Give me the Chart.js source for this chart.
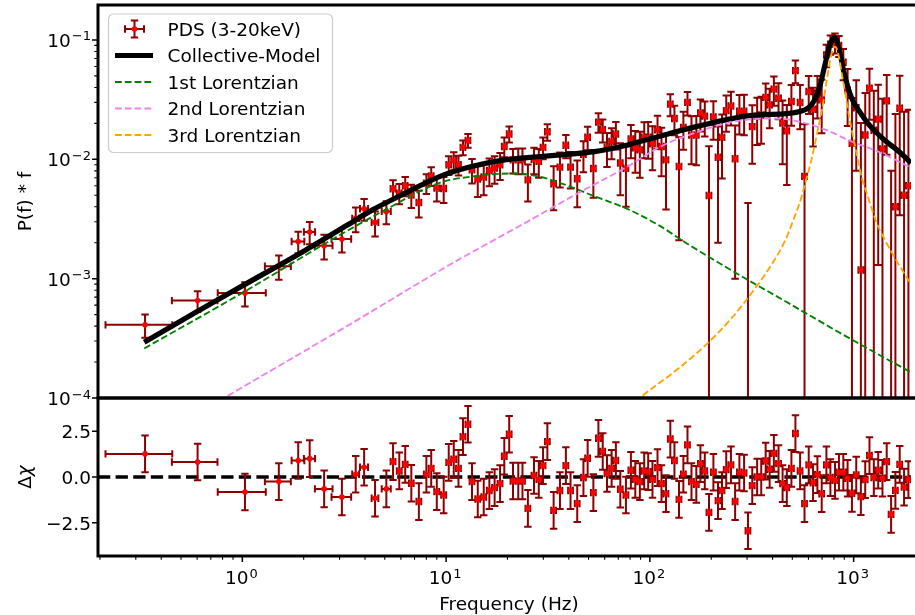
<!DOCTYPE html>
<html>
<head>
<meta charset="utf-8">
<script src="https://cdn.jsdelivr.net/npm/chart.js@4.4.1/dist/chart.umd.min.js"></script>
<style>
  html, body { margin: 0; padding: 0; background: #fff; }
  #wrap { position: relative; width: 915px; height: 615px; overflow: hidden; }
  canvas { position: absolute; left: 0; top: 0; }
</style>
</head>
<body>
<div id="wrap">
  <canvas id="pds" width="915" height="615"></canvas>
  <canvas id="res" width="915" height="615"></canvas>
</div>
<script>
// PDS bins (Hz), power*f, their errors, and fit residuals
const freq = [
  0.333, 0.603, 1.03, 1.51, 1.88, 2.14, 2.52, 3.08, 3.6, 3.96,
  4.48, 5.09, 5.49, 5.89, 6.3, 6.75, 7.35, 8.0, 8.45, 9.0,
  9.73, 10.3, 10.9, 11.5, 12.1, 12.8, 13.4, 14.3, 15.3, 16.3,
  17.3, 18.4, 19.3, 20.4, 21.3, 22.6, 23.7, 25.2, 27, 28.5,
  29.9, 31.4, 33.7, 36.2, 38.7, 40.8, 44, 47.2, 49.5, 52.8,
  55.9, 58.7, 61.6, 64.9, 68.1, 71.6, 76.3, 80.7, 84.8, 89.3,
  93.8, 98.1, 103, 109, 114, 120, 126, 132, 139, 146,
  153, 160, 169, 177, 186, 195, 205, 216, 226, 237,
  250, 262, 275, 290, 303, 318, 336, 352, 370, 387,
  406, 428, 448, 470, 495, 518, 546, 574, 602, 632,
  664, 697, 735, 769, 810, 847, 890, 934, 981, 1030,
  1085, 1140, 1196, 1256, 1320, 1385, 1453, 1527, 1603, 1683,
  1768, 1857
];
const freqErr = [
  0.12, 0.152, 0.273, 0.22, 0.135, 0.135, 0.25, 0.34, 0.14, 0.18,
  0.17, 0.26, 0.15, 0.16, 0.17, 0.18, 0.2, 0.22, 0.23, 0.25,
  0.27, 0.28, 0.3, 0.31, 0.33, 0.35, 0.36, 0.39, 0.41, 0.44,
  0.47, 0.5, 0.52, 0.55, 0.58, 0.61, 0.64, 0.68, 0.73, 0.77,
  0.81, 0.85, 0.91, 0.98, 1.05, 1.1, 1.19, 1.27, 1.34, 1.43,
  1.51, 1.58, 1.66, 1.75, 1.84, 1.93, 2.06, 2.18, 2.29, 2.41,
  2.53, 2.65, 2.78, 2.94, 3.08, 3.24, 3.4, 3.56, 3.75, 3.94,
  4.13, 4.32, 4.56, 4.78, 5.0, 5.3, 5.5, 5.8, 6.1, 6.4,
  6.75, 7.1, 7.4, 7.8, 8.2, 8.6, 9.1, 9.5, 10, 10.4,
  11, 11.6, 12.1, 12.7, 13.4, 14, 14.7, 15.5, 16.3, 17.1,
  17.9, 18.8, 19.8, 20.8, 21.9, 22.9, 24, 25.2, 26.5, 27.8,
  29.3, 30.8, 32.3, 33.9, 35.6, 37.4, 39.2, 41.2, 43.3, 45.4,
  47.7, 50.1
];
const power = [
  4.1e-4, 6.55e-4, 7.6e-4, 1.27e-3, 2.05e-3, 2.46e-3, 1.89e-3, 2.15e-3, 3.2e-3, 3.85e-3,
  2.96e-3, 3.66e-3, 5.66e-3, 5.21e-3, 6.0e-3, 5.01e-3, 4.35e-3, 6.31e-3, 7.27e-3, 5.74e-3,
  5.7e-3, 9.0e-3, 9.77e-3, 9.0e-3, 1.26e-2, 1.44e-2, 8.17e-3, 6.83e-3, 7.1e-3, 8.05e-3,
  8.43e-3, 9.0e-3, 1.28e-2, 1.63e-2, 9.9e-3, 9.9e-3, 9.9e-3, 6.73e-3, 1.0e-2, 9.6e-3,
  1.26e-2, 1.70e-2, 6.24e-3, 8.6e-3, 1.31e-2, 8.6e-3, 6.87e-3, 1.1e-2, 1.53e-2, 8.37e-3,
  2.05e-2, 1.77e-2, 1.26e-2, 1.41e-2, 1.63e-2, 9.3e-3, 8.4e-3, 1.48e-2, 1.25e-2, 1.2e-2,
  1.53e-2, 1.53e-2, 1.35e-2, 1.77e-2, 1.28e-2, 9.9e-3, 2.9e-2, 2.2e-2, 8.7e-3, 1.85e-2,
  3.0e-2, 1.6e-2, 1.6e-2, 2.44e-2, 2.3e-2, 4.97e-3, 2.26e-2, 1.04e-2, 1.53e-2, 2.56e-2,
  2.8e-2, 1.01e-2, 2.53e-2, 2.53e-2, -4.9e-3, 1.88e-2, 2.3e-2, 2.35e-2, 3.3e-2, 2.86e-2,
  3.87e-2, 3.25e-2, 2.01e-2, 1.73e-2, 3.05e-2, 5.53e-2, 2.99e-2, 7.2e-3, 3.7e-2, 2.63e-2,
  3.6e-2, 3.15e-2, 7.5e-2, 9.2e-2, 9.5e-2, 9.0e-2, 6.5e-2, 3.8e-2, 1.36e-2, 2.7e-2,
  1.18e-3, 1.6e-2, 3.95e-2, 1.75e-2, 2.17e-2, 1.22e-2, 3.09e-2, -1.2e-2, 4.0e-3, 2.68e-2,
  5.0e-3, 6.0e-3
];
const powerErr = [
  0.9e-4, 1.3e-4, 1.75e-4, 2.9e-4, 4.2e-4, 5.2e-4, 4.4e-4, 4.9e-4, 7.5e-4, 8.0e-4,
  7.0e-4, 8.0e-4, 1.0e-3, 1.0e-3, 1.1e-3, 1.1e-3, 1.1e-3, 1.2e-3, 1.3e-3, 1.3e-3,
  1.4e-3, 1.6e-3, 1.7e-3, 1.7e-3, 1.8e-3, 1.9e-3, 1.9e-3, 2.0e-3, 2.1e-3, 2.1e-3,
  2.2e-3, 2.3e-3, 2.4e-3, 2.5e-3, 2.3e-3, 2.4e-3, 2.4e-3, 2.3e-3, 2.5e-3, 2.6e-3,
  2.6e-3, 2.7e-3, 2.5e-3, 2.8e-3, 2.9e-3, 2.9e-3, 2.9e-3, 3.2e-3, 3.4e-3, 3.6e-3,
  3.8e-3, 3.9e-3, 4.0e-3, 4.1e-3, 4.2e-3, 4.3e-3, 4.4e-3, 4.6e-3, 4.8e-3, 5.0e-3,
  5.1e-3, 5.2e-3, 5.4e-3, 5.5e-3, 5.6e-3, 6.1e-3, 6.0e-3, 6.1e-3, 6.6e-3, 6.5e-3,
  6.7e-3, 6.9e-3, 7.1e-3, 7.3e-3, 7.5e-3, 7.9e-3, 8.0e-3, 8.4e-3, 8.4e-3, 8.6e-3,
  8.8e-3, 9.1e-3, 9.2e-3, 9.4e-3, 9.2e-3, 9.6e-3, 9.8e-3, 1.0e-2, 1.02e-2, 1.04e-2,
  1.06e-2, 1.08e-2, 1.1e-2, 1.12e-2, 1.14e-2, 1.2e-2, 1.2e-2, 1.25e-2, 1.3e-2, 1.35e-2,
  1.4e-2, 1.5e-2, 1.6e-2, 1.7e-2, 1.8e-2, 1.8e-2, 1.9e-2, 1.9e-2, 1.9e-2, 1.9e-2,
  1.9e-2, 2.0e-2, 1.8e-2, 2.0e-2, 2.04e-2, 2.0e-2, 2.0e-2, 2.0e-2, 2.0e-2, 2.34e-2,
  2.0e-2, 2.0e-2
];
const resid = [
  1.26, 0.82, -0.82, -0.25, 0.90, 1.00, -0.65, -1.09, 0.15, 0.53,
  -1.16, -0.65, 0.84, 0.33, 0.69, -0.34, -1.34, 0.15, 0.47, -0.80,
  -0.98, 0.80, 0.97, 0.47, 2.20, 2.88, -0.25, -1.20, -1.09, -0.74,
  -0.58, -0.36, 1.13, 2.33, -0.22, -0.22, -0.22, -1.71, 0.08, -0.13,
  0.62, 1.93, -1.82, -0.74, 0.62, -0.74, -1.45, -0.03, 1.02, -0.85,
  2.11, 1.39, 0.19, 0.47, 0.90, -0.67, -0.98, 0.37, -0.13, -0.25,
  0.33, 0.29, -0.13, 0.51, -0.36, -0.91, 2.07, 0.90, -1.22, 0.15,
  1.75, -0.25, -0.40, 0.73, 0.33, -1.93, 0.26, -1.29, -0.74, 0.40,
  0.66, -1.34, 0.26, 0.22, -2.93, -0.47, 0.0, 0.0, 0.87, 0.42,
  1.29, 0.73, -0.36, -0.58, 0.47, 2.37, 0.33, -1.45, 0.66, -0.31,
  0.13, -0.91, 0.66, -0.03, -0.18, 0.26, 0.26, -0.07, -0.89, 0.11,
  -1.07, -0.14, 1.17, -0.03, 0.37, -0.07, 0.84, -2.04, -0.73, 0.69,
  -0.55, -0.14
];
const residErr = freq.map(() => 1);

// model curves
const modelFreq = [0.33, 0.6, 1, 2, 3.26, 4.33, 6.3, 9.15, 13.3, 19.4, 28.2, 36.6, 53.5, 77.8, 113, 165, 239, 295, 354, 450, 537, 600, 640, 680, 720, 760, 790, 805, 825, 855, 900, 975, 1080, 1175, 1300, 1416, 1700, 1912];
const modelPower = [2.93e-4, 5.3e-4, 8.7e-4, 1.70e-3, 2.8e-3, 3.75e-3, 5.2e-3, 7.1e-3, 8.7e-3, 9.9e-3, 1.05e-2, 1.09e-2, 1.16e-2, 1.32e-2, 1.57e-2, 1.86e-2, 2.15e-2, 2.3e-2, 2.37e-2, 2.40e-2, 2.5e-2, 2.7e-2, 3.1e-2, 4.0e-2, 6.0e-2, 8.8e-2, 0.102, 0.104, 0.099, 0.08, 0.052, 0.033, 0.0245, 0.0200, 0.0166, 0.0145, 0.0113, 9.3e-3];
const lor1Freq = [0.33, 1, 2.98, 5, 9.15, 14.4, 20.9, 28.2, 36.6, 53.5, 77.8, 113, 150, 250, 462, 978, 1912];
const lor1Power = [2.6e-4, 7.6e-4, 2.3e-3, 3.75e-3, 6.3e-3, 7.28e-3, 7.6e-3, 7.2e-3, 6.3e-3, 4.9e-3, 3.83e-3, 2.74e-3, 2.0e-3, 1.18e-3, 6.46e-4, 3.09e-4, 1.64e-4];
const lor2Freq = [0.7, 1, 3.26, 10.85, 25.2, 44.4, 77.8, 113, 165, 239, 295, 383, 462, 697, 978, 1320, 1912];
const lor2Power = [8.6e-5, 1.23e-4, 4.0e-4, 1.36e-3, 3.02e-3, 5.2e-3, 8.7e-3, 1.28e-2, 1.66e-2, 2.01e-2, 2.14e-2, 2.2e-2, 2.17e-2, 1.82e-2, 1.41e-2, 1.16e-2, 8.5e-3];
const lor3Freq = [85, 92.5, 140, 195, 250, 318, 400, 462, 506, 550, 577, 620, 671, 705, 735, 765, 790, 805, 825, 850, 880, 906, 950, 1015, 1090, 1183, 1300, 1427, 1650, 1912];
const lor3Power = [9.2e-5, 1.05e-4, 1.8e-4, 2.95e-4, 4.6e-4, 7.7e-4, 1.35e-3, 2.1e-3, 3.1e-3, 4.6e-3, 6.2e-3, 9.8e-3, 1.85e-2, 2.8e-2, 4.4e-2, 6.6e-2, 8.3e-2, 8.8e-2, 8.5e-2, 7.0e-2, 4.9e-2, 3.7e-2, 2.3e-2, 1.3e-2, 7.3e-3, 4.7e-3, 2.9e-3, 2.1e-3, 1.35e-3, 9.0e-4];

// ticks
const xMajorTicks = [1, 10, 100, 1000];
const xMajorExp = ['0', '1', '2', '3'];
const xMinorTicks = [0.2, 0.3, 0.4, 0.5, 0.6, 0.7, 0.8, 0.9, 2, 3, 4, 5, 6, 7, 8, 9, 20, 30, 40, 50, 60, 70, 80, 90, 200, 300, 400, 500, 600, 700, 800, 900];
const pdsMajorTicks = [1e-4, 1e-3, 1e-2, 1e-1];
const pdsMajorExp = ['\u22124', '\u22123', '\u22122', '\u22121'];
const pdsMinorTicks = [2e-4, 3e-4, 4e-4, 5e-4, 6e-4, 7e-4, 8e-4, 9e-4, 2e-3, 3e-3, 4e-3, 5e-3, 6e-3, 7e-3, 8e-3, 9e-3, 2e-2, 3e-2, 4e-2, 5e-2, 6e-2, 7e-2, 8e-2, 9e-2];
const resTicks = [-2.5, 0, 2.5];
const resTickLabels = ['\u22122.5', '0.0', '2.5'];

const X_MIN = 0.1957, X_MAX = 1912;
const FONT = '"DejaVu Sans", "Liberation Sans", sans-serif';
const FS = 18.5;
const DARK = '#8b0000';

const pts = (xs, ys) => xs.map((x, i) => ({ x: x, y: ys[i] }));

function drawPow(ctx, exp, x, y, align) {
  ctx.font = FS + 'px ' + FONT;
  const wb = ctx.measureText('10').width;
  ctx.font = '13px ' + FONT;
  const we = ctx.measureText(exp).width;
  const total = wb + we + 1;
  const left = align === 'right' ? x - total : x - total / 2;
  ctx.textAlign = 'left';
  ctx.textBaseline = 'alphabetic';
  ctx.font = FS + 'px ' + FONT;
  ctx.fillText('10', left, y);
  ctx.font = '13px ' + FONT;
  ctx.fillText(exp, left + wb + 1, y - 6.5);
}

function drawSpines(ctx, a) {
  ctx.save();
  ctx.strokeStyle = '#000';
  ctx.lineWidth = 3;
  ctx.lineJoin = 'miter';
  ctx.beginPath();
  ctx.moveTo(a.right + 5, a.top);
  ctx.lineTo(a.left, a.top);
  ctx.lineTo(a.left, a.bottom);
  ctx.lineTo(a.right + 5, a.bottom);
  ctx.stroke();
  ctx.restore();
}

function yTicks(ctx, scale, a, vals, len, w) {
  ctx.lineWidth = w;
  ctx.beginPath();
  vals.forEach(v => {
    const y = scale.getPixelForValue(v);
    ctx.moveTo(a.left, y);
    ctx.lineTo(a.left - len, y);
  });
  ctx.stroke();
}

const errorBars = {
  id: 'errorBars',
  beforeDatasetDraw(chart, args) {
    const ds = chart.data.datasets[args.index];
    if (!ds.yErr) return;
    const ctx = chart.ctx, a = chart.chartArea;
    const sx = chart.scales.x, sy = chart.scales.y;
    const logY = sy.type === 'logarithmic';
    const ok = v => !logY || v > 0;
    const cap = 3.7;
    ctx.save();
    ctx.beginPath();
    ctx.rect(a.left, a.top, a.right - a.left, a.bottom - a.top);
    ctx.clip();
    ctx.strokeStyle = DARK;
    ctx.lineWidth = 2;
    ctx.beginPath();
    ds.data.forEach((p, i) => {
      const px = sx.getPixelForValue(p.x);
      const hi = p.y + ds.yErr[i], lo = p.y - ds.yErr[i];
      if (ok(hi)) {
        const yHi = sy.getPixelForValue(hi);
        const yLo = ok(lo) ? sy.getPixelForValue(lo) : a.bottom + 20;
        ctx.moveTo(px, yHi); ctx.lineTo(px, yLo);
        ctx.moveTo(px - cap, yHi); ctx.lineTo(px + cap, yHi);
        if (ok(lo)) { ctx.moveTo(px - cap, yLo); ctx.lineTo(px + cap, yLo); }
      }
      if (ok(p.y)) {
        const py = sy.getPixelForValue(p.y);
        const xl = sx.getPixelForValue(p.x - ds.xErr[i]);
        const xr = sx.getPixelForValue(p.x + ds.xErr[i]);
        ctx.moveTo(xl, py); ctx.lineTo(xr, py);
        ctx.moveTo(xl, py - cap); ctx.lineTo(xl, py + cap);
        ctx.moveTo(xr, py - cap); ctx.lineTo(xr, py + cap);
      }
    });
    ctx.stroke();
    ctx.restore();
  }
};

const pdsDecor = {
  id: 'pdsDecor',
  afterDraw(chart) {
    const ctx = chart.ctx, a = chart.chartArea, sy = chart.scales.y;
    drawSpines(ctx, a);
    ctx.save();
    ctx.strokeStyle = '#000';
    yTicks(ctx, sy, a, pdsMajorTicks, 6, 1.5);
    yTicks(ctx, sy, a, pdsMinorTicks, 3.7, 1.1);
    ctx.fillStyle = '#000';
    pdsMajorTicks.forEach((v, i) => drawPow(ctx, pdsMajorExp[i], 91, sy.getPixelForValue(v) + 7, 'right'));
    // y label
    ctx.save();
    ctx.translate(30.5, (a.top + a.bottom) / 2);
    ctx.rotate(-Math.PI / 2);
    ctx.font = FS + 'px ' + FONT;
    ctx.textAlign = 'center';
    ctx.textBaseline = 'alphabetic';
    ctx.fillText('P(f) * f', 0, 0);
    ctx.restore();

    // legend
    const lx = 108.5, ly = 14, lw = 224, lh = 138.5;
    ctx.beginPath();
    ctx.roundRect(lx, ly, lw, lh, 5);
    ctx.fillStyle = 'rgba(255,255,255,0.8)';
    ctx.fill();
    ctx.strokeStyle = '#cccccc';
    ctx.lineWidth = 1.2;
    ctx.stroke();
    const rows = [29, 55.5, 82, 108.5, 135];
    const hx0 = 115, hx1 = 153, tx = 167.5;
    // errorbar handle
    ctx.strokeStyle = DARK;
    ctx.lineWidth = 2;
    ctx.beginPath();
    const cx = 134.5, cy = rows[0];
    ctx.moveTo(125, cy); ctx.lineTo(144, cy);
    ctx.moveTo(125, cy - 3.7); ctx.lineTo(125, cy + 3.7);
    ctx.moveTo(144, cy - 3.7); ctx.lineTo(144, cy + 3.7);
    ctx.moveTo(cx, cy - 8.5); ctx.lineTo(cx, cy + 8.5);
    ctx.moveTo(cx - 3.7, cy - 8.5); ctx.lineTo(cx + 3.7, cy - 8.5);
    ctx.moveTo(cx - 3.7, cy + 8.5); ctx.lineTo(cx + 3.7, cy + 8.5);
    ctx.stroke();
    ctx.fillStyle = 'red';
    ctx.beginPath();
    ctx.arc(cx, cy, 2.8, 0, Math.PI * 2);
    ctx.fill();
    const lineHandles = [
      { c: '#000', w: 5.2, d: [] },
      { c: 'green', w: 1.85, d: [6.8, 3] },
      { c: 'violet', w: 1.85, d: [6.8, 3] },
      { c: 'orange', w: 1.85, d: [6.8, 3] }
    ];
    lineHandles.forEach((h, i) => {
      ctx.strokeStyle = h.c;
      ctx.lineWidth = h.w;
      ctx.setLineDash(h.d);
      ctx.beginPath();
      ctx.moveTo(hx0, rows[i + 1]);
      ctx.lineTo(hx1, rows[i + 1]);
      ctx.stroke();
    });
    ctx.setLineDash([]);
    ctx.fillStyle = '#000';
    ctx.font = FS + 'px ' + FONT;
    ctx.textAlign = 'left';
    ctx.textBaseline = 'alphabetic';
    chart.data.datasets.forEach((ds, i) => {
      ctx.fillText(ds.label, tx, rows[ds.legendRow] + 6.7);
    });
    ctx.restore();
  }
};

const resDecor = {
  id: 'resDecor',
  afterDraw(chart) {
    const ctx = chart.ctx, a = chart.chartArea, sx = chart.scales.x, sy = chart.scales.y;
    drawSpines(ctx, a);
    ctx.save();
    ctx.strokeStyle = '#000';
    yTicks(ctx, sy, a, resTicks, 6, 1.5);
    // x ticks
    ctx.lineWidth = 1.5;
    ctx.beginPath();
    xMajorTicks.forEach(v => { const x = sx.getPixelForValue(v); ctx.moveTo(x, a.bottom); ctx.lineTo(x, a.bottom + 6); });
    ctx.stroke();
    ctx.lineWidth = 1.1;
    ctx.beginPath();
    xMinorTicks.forEach(v => { const x = sx.getPixelForValue(v); ctx.moveTo(x, a.bottom); ctx.lineTo(x, a.bottom + 3.7); });
    ctx.stroke();
    ctx.fillStyle = '#000';
    xMajorTicks.forEach((v, i) => drawPow(ctx, xMajorExp[i], sx.getPixelForValue(v) - 1, 584, 'center'));
    ctx.font = FS + 'px ' + FONT;
    ctx.textAlign = 'right';
    ctx.textBaseline = 'alphabetic';
    resTicks.forEach((v, i) => ctx.fillText(resTickLabels[i], 91, sy.getPixelForValue(v) + 6.8));
    ctx.textAlign = 'center';
    ctx.fillText('Frequency (Hz)', 509, 610);
    // y label: Delta chi
    ctx.save();
    ctx.translate(30.5, (a.top + a.bottom) / 2);
    ctx.rotate(-Math.PI / 2);
    ctx.font = FS + 'px ' + FONT;
    const wD = ctx.measureText('\u0394').width;
    ctx.font = 'italic ' + FS + 'px ' + FONT;
    const wC = ctx.measureText('\u03c7').width;
    const x0 = -(wD + wC) / 2;
    ctx.textAlign = 'left';
    ctx.font = FS + 'px ' + FONT;
    ctx.fillText('\u0394', x0, 0);
    ctx.font = 'italic ' + FS + 'px ' + FONT;
    ctx.fillText('\u03c7', x0 + wD, 0);
    ctx.restore();
    ctx.restore();
  }
};

const xScale = (shown, h) => ({
  type: 'logarithmic', min: X_MIN, max: X_MAX, display: shown,
  ticks: { display: false }, grid: { display: false }, border: { display: false },
  afterFit: s => { if (h) s.height = h; }
});

const curve = (label, xs, ys, color, width, dash, order, row) => ({
  label: label, legendRow: row, data: pts(xs, ys), showLine: true,
  borderColor: color, borderWidth: width, borderDash: dash, pointRadius: 0,
  cubicInterpolationMode: 'monotone', clip: 0, order: order
});

const baseOpts = {
  responsive: false, animation: false, devicePixelRatio: 1, events: [],
  plugins: { legend: { display: false }, tooltip: { enabled: false } }
};

new Chart(document.getElementById('pds'), {
  type: 'scatter',
  data: {
    datasets: [
      { label: 'PDS (3-20keV)', legendRow: 0, data: pts(freq, power), yErr: powerErr, xErr: freqErr,
        pointRadius: 2.8, pointBackgroundColor: 'red', pointBorderWidth: 0, clip: 0, order: 10 },
      curve('Collective-Model', modelFreq, modelPower, '#000', 5.2, [], 4, 1),
      curve('1st Lorentzian', lor1Freq, lor1Power, 'green', 1.85, [6.8, 3], 3, 2),
      curve('2nd Lorentzian', lor2Freq, lor2Power, 'violet', 1.85, [6.8, 3], 2, 3),
      curve('3rd Lorentzian', lor3Freq, lor3Power, 'orange', 1.85, [6.8, 3], 1, 4)
    ]
  },
  options: Object.assign({}, baseOpts, {
    layout: { padding: { top: 5, left: 0, right: 0, bottom: 217 } },
    scales: {
      x: xScale(false, 0),
      y: { type: 'logarithmic', min: 1e-4, max: 0.1963,
        ticks: { display: false }, grid: { display: false }, border: { display: false },
        afterFit: s => { s.width = 98; } }
    }
  }),
  plugins: [errorBars, pdsDecor]
});

new Chart(document.getElementById('res'), {
  type: 'scatter',
  data: {
    datasets: [
      { label: 'zero', data: pts([X_MIN, X_MAX * 1.2], [0, 0]), showLine: true, borderColor: '#000',
        borderWidth: 3.3, borderDash: [12.3, 5.3], pointRadius: 0, clip: 0, order: 20 },
      { label: 'resid', data: pts(freq, resid), yErr: residErr, xErr: freqErr,
        pointRadius: 2.8, pointBackgroundColor: 'red', pointBorderWidth: 0, clip: 0, order: 10 }
    ]
  },
  options: Object.assign({}, baseOpts, {
    layout: { padding: { top: 398, left: 0, right: 0, bottom: 0 } },
    scales: {
      x: xScale(true, 59),
      y: { type: 'linear', min: -4.31, max: 4.31,
        ticks: { display: false }, grid: { display: false }, border: { display: false },
        afterFit: s => { s.width = 98; } }
    }
  }),
  plugins: [errorBars, resDecor]
});
</script>
</body>
</html>
